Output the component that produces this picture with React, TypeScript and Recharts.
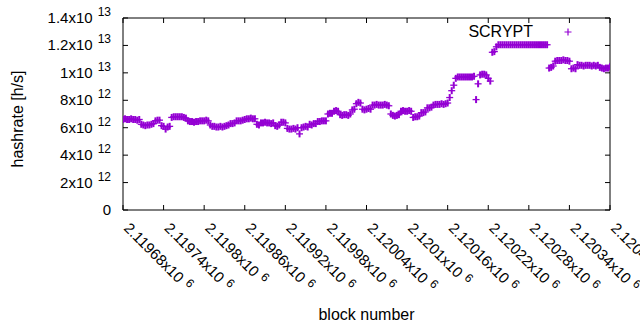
import React from 'react';
import { ComposedChart, Scatter, XAxis, YAxis, Legend } from 'recharts';

const FONT = '"Liberation Sans", Arial, sans-serif';
const COLOR = '#9400D3';

// first block and spacing between sampled blocks
const firstBlock = 2119680;
const blockStep = 3;

// hashrate values in units of 10^12 h/s
const hashrateE12 = [
  6.6, 6.65, 6.6, 6.6, 6.65, 6.6, 6.6, 6.55, 6.6,
  6.25, 6.2, 6.15, 6.2, 6.2, 6.25, 6.3,
  6.5, 6.55, 6.55,
  6.15, 6.1, 5.9, 6.05, 6.1,
  6.75, 6.8, 6.8, 6.8, 6.8, 6.8, 6.75, 6.7,
  6.5, 6.45, 6.45, 6.4, 6.45, 6.45, 6.5, 6.5,
  6.5, 6.55, 6.5,
  6.2, 6.1, 6.1, 6.05, 6.05, 6.1, 6.05, 6.1, 6.15, 6.2,
  6.3, 6.3, 6.35,
  6.5, 6.5, 6.5, 6.55, 6.6,
  6.65, 6.65, 6.7, 6.65, 6.65,
  6.25, 6.2,
  6.35, 6.35, 6.4, 6.35, 6.35, 6.3, 6.35,
  6.15, 6.1, 6.2,
  6.4, 6.4, 6.35,
  5.95, 5.9, 5.9, 5.95, 5.9, 6.0,
  5.55, 6.0, 6.05, 6.1, 6.05,
  6.25, 6.2, 6.3, 6.3,
  6.45, 6.45, 6.5, 6.5, 6.5,
  7.0, 7.05, 7.05,
  7.2, 7.25, 7.2,
  6.95, 6.9, 6.95, 6.95, 6.9, 7.0,
  7.3, 7.35,
  7.75, 7.85, 7.8,
  7.35, 7.3, 7.35, 7.4, 7.35,
  7.65, 7.65, 7.7, 7.65, 7.65, 7.65, 7.7, 7.65, 7.6,
  7.0, 6.9, 6.85, 6.9, 6.95,
  7.2, 7.25, 7.2, 7.2, 7.25, 7.2,
  6.75, 6.8, 6.8, 6.85,
  7.1, 7.1, 7.15,
  7.45, 7.45, 7.5,
  7.65, 7.7, 7.7, 7.7, 7.75, 7.7, 7.75, 7.8,
  8.2, 8.7, 9.1,
  9.6, 9.7, 9.7, 9.7, 9.7, 9.7, 9.7, 9.7, 9.7, 9.75,
  8.05, 9.2,
  9.85, 9.9, 9.9, 9.85,
  9.6, 9.4,
  11.5, 11.55, 11.9,
  12.05, 12.05, 12.05, 12.05, 12.05, 12.05, 12.05, 12.05, 12.05, 12.05,
  12.05, 12.05, 12.05, 12.05, 12.05, 12.05, 12.05, 12.05, 12.05, 12.05,
  12.05, 12.05, 12.05, 12.05, 12.05,
  10.35, 10.4, 10.5,
  10.85, 10.9, 10.9, 10.9, 10.95, 10.9, 10.9, 10.85,
  10.3, 10.35, 10.3,
  10.6, 10.55, 10.55, 10.5, 10.55, 10.55, 10.55, 10.5, 10.55, 10.5, 10.55,
  10.4, 10.35, 10.3, 10.35, 10.35, 10.45,
];

const xTicks = [
  2119680, 2119740, 2119800, 2119860, 2119920, 2119980, 2120040,
  2120100, 2120160, 2120220, 2120280, 2120340, 2120400,
];
const xTickLabels = [
  '2.11968', '2.11974', '2.1198', '2.11986', '2.11992', '2.11998', '2.12004',
  '2.1201', '2.12016', '2.12022', '2.12028', '2.12034', '2.1204',
];
const xTickExponent = '6';

const yTicks = [0, 2e12, 4e12, 6e12, 8e12, 1e13, 1.2e13, 1.4e13];
const yTickMantissa = ['0', '2', '4', '6', '8', '1', '1.2', '1.4'];
const yTickExponent = ['', '12', '12', '12', '12', '13', '13', '13'];

const seriesName = 'SCRYPT';

const data = hashrateE12.map((v, i) => ({
  block: firstBlock + i * blockStep,
  hashrate: v * 1e12,
}));

const PlusShape = (props: any) => {
  const { cx, cy } = props;
  if (cx == null || cy == null) return null;
  return (
    <g stroke={COLOR} fill="none">
      <path d={`M${cx - 3.5},${cy}H${cx + 3.5}`} strokeWidth={1.3} />
      <path d={`M${cx},${cy - 3.5}V${cy + 3.5}`} strokeWidth={2} />
    </g>
  );
};

const XTickBottom = (props: any) => {
  const { x, y, payload } = props;
  const idx = xTicks.indexOf(payload.value);
  const ly = y + 19;
  return (
    <g>
      <line x1={x} y1={y} x2={x} y2={y - 5} stroke="#000" />
      <text
        x={x}
        y={ly}
        transform={`rotate(45 ${x} ${ly})`}
        fontSize={15}
        fontFamily={FONT}
        fill="#000"
        textAnchor="start"
      >
        {xTickLabels[idx]}x10
        <tspan dx={5} dy={-5} fontSize={12}>{xTickExponent}</tspan>
      </text>
    </g>
  );
};

const XTickTop = (props: any) => {
  const { x, y } = props;
  return <line x1={x} y1={y} x2={x} y2={y + 5} stroke="#000" />;
};

const YTickLeft = (props: any) => {
  const { x, y, payload } = props;
  const idx = yTicks.indexOf(payload.value);
  const exp = yTickExponent[idx];
  return (
    <g>
      <line x1={x} y1={y} x2={x + 5} y2={y} stroke="#000" />
      <text
        x={x - 12}
        y={y + 5}
        fontSize={15}
        fontFamily={FONT}
        fill="#000"
        textAnchor="end"
      >
        {exp ? `${yTickMantissa[idx]}x10` : yTickMantissa[idx]}
        {exp ? (
          <tspan dx={5} dy={-7} fontSize={12}>{exp}</tspan>
        ) : null}
      </text>
    </g>
  );
};

const YTickRight = (props: any) => {
  const { x, y } = props;
  return <line x1={x} y1={y} x2={x - 5} y2={y} stroke="#000" />;
};

const YTitle = (props: any) => {
  const vb = props.viewBox || {};
  const cx = 17;
  const cy = vb.y + vb.height / 2 + 5;
  return (
    <text
      x={cx}
      y={cy}
      transform={`rotate(-90 ${cx} ${cy})`}
      textAnchor="middle"
      dominantBaseline="central"
      fontSize={16}
      fontFamily={FONT}
      fill="#000"
    >
      hashrate [h/s]
    </text>
  );
};

const XTitle = (props: any) => {
  const vb = props.viewBox || {};
  const cx = vb.x + vb.width / 2;
  const cy = vb.y + vb.height + 10;
  return (
    <text
      x={cx}
      y={cy}
      textAnchor="middle"
      fontSize={16}
      fontFamily={FONT}
      fill="#000"
    >
      block number
    </text>
  );
};

const LegendContent = () => (
  <div
    style={{
      display: 'flex',
      alignItems: 'center',
      fontFamily: FONT,
      fontSize: 16,
      color: '#000',
      height: 20,
    }}
  >
    <span style={{ width: 75, textAlign: 'right', display: 'inline-block' }}>{seriesName}</span>
    <svg width={70} height={20} style={{ display: 'block' }}>
      <path d="M31.5,10H38.5M35,6.5V13.5" stroke={COLOR} strokeWidth={1.2} fill="none" />
    </svg>
  </div>
);

export default function App() {
  return (
    <div style={{ position: 'absolute', left: 0, top: 0, width: 640, height: 330, background: '#fff' }}>
      <ComposedChart
        width={640}
        height={330}
        data={data}
        margin={{ top: 17, right: 29, bottom: 20, left: 0 }}
      >
        <XAxis
          xAxisId="bottom"
          dataKey="block"
          type="number"
          domain={[2119680, 2120400]}
          ticks={xTicks}
          interval={0}
          height={100}
          tickSize={0}
          tickMargin={0}
          tickLine={false}
          axisLine={{ stroke: '#000' }}
          tick={<XTickBottom />}
          label={<XTitle />}
          allowDataOverflow
        />
        <XAxis
          xAxisId="top"
          orientation="top"
          dataKey="block"
          type="number"
          domain={[2119680, 2120400]}
          ticks={xTicks}
          interval={0}
          height={1}
          tickSize={0}
          tickMargin={0}
          tickLine={false}
          axisLine={{ stroke: '#000' }}
          tick={<XTickTop />}
          allowDataOverflow
        />
        <YAxis
          yAxisId="left"
          dataKey="hashrate"
          type="number"
          domain={[0, 1.4e13]}
          ticks={yTicks}
          interval={0}
          width={123}
          tickSize={0}
          tickMargin={0}
          tickLine={false}
          axisLine={{ stroke: '#000' }}
          tick={<YTickLeft />}
          label={<YTitle />}
          allowDataOverflow
        />
        <YAxis
          yAxisId="right"
          orientation="right"
          dataKey="hashrate"
          type="number"
          domain={[0, 1.4e13]}
          ticks={yTicks}
          interval={0}
          width={1}
          tickSize={0}
          tickMargin={0}
          tickLine={false}
          axisLine={{ stroke: '#000' }}
          tick={<YTickRight />}
          allowDataOverflow
        />
        <Legend
          layout="horizontal"
          verticalAlign="middle"
          align="center"
          content={<LegendContent />}
          wrapperStyle={{ position: 'absolute', top: 22, left: 458, width: 145, height: 20 }}
        />
        <Scatter
          name={seriesName}
          xAxisId="bottom"
          yAxisId="left"
          dataKey="hashrate"
          fill={COLOR}
          shape={<PlusShape />}
          isAnimationActive={false}
        />
      </ComposedChart>
    </div>
  );
}
